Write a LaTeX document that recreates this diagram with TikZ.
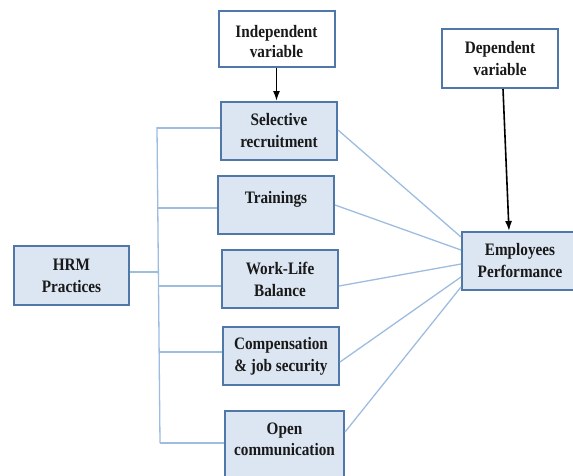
\documentclass[tikz,border=0pt]{standalone}
\usepackage{fontspec}
\setmainfont{Liberation Serif}[FakeStretch=0.87]
\usetikzlibrary{arrows.meta,calc}
\definecolor{boxfill}{HTML}{DCE6F2}
\definecolor{boxline}{HTML}{4F78A8}
\definecolor{conn}{HTML}{9DBCE0}
\tikzset{
  lab/.style={font=\fontsize{17.5}{22}\selectfont\bfseries, align=center, text=black!90},
  blue box/.style={lab, draw=boxline, line width=2pt, fill=boxfill, minimum width=116pt, minimum height=58pt, inner sep=0pt},
  var box/.style={lab, draw=boxline, line width=2pt, fill=white, minimum width=116pt, minimum height=56pt, inner sep=0pt},
  link/.style={draw=conn, line width=1.3pt},
  arr/.style={draw=black, line width=1.6pt, -{Latex[length=10pt,width=7pt]}}
}
\begin{document}
\begin{tikzpicture}[x=1pt, y=-1pt]
\useasboundingbox (0,0) rectangle (573,475);
% boxes
\node[var box] (indep) at (276.5,38.5) {\raisebox{-3pt}[\height][\depth]{\shortstack{Independent\\[2pt]variable}}};
\node[var box, minimum height=59pt] (dep) at (500,58.5) {Dependent\\variable};
\node[blue box] (sel) at (279,131) {Selective\\recruitment};
\node[blue box] (tra) at (276,205) {\raisebox{6pt}[\height][\depth]{Trainings}};
\node[blue box] (wlb) at (280,279) {Work-Life\\Balance};
\node[blue box] (com) at (281,356) {Compensation\\\&\ job security};
\node[blue box, minimum width=119pt, minimum height=72pt] (open) at (284.5,447) {\raisebox{8pt}[\height][\depth]{\shortstack{Open\\[2pt]communication}}};
\node[blue box, minimum width=115pt, minimum height=59pt] (hrm) at (71.5,275.5) {HRM\\Practices};
\node[blue box] (emp) at (520,261) {Employees\\Performance};
% trunk
\coordinate (ttop) at (157,127);
\coordinate (tbot) at (160,443);
\coordinate (b1) at (157,128);
\coordinate (b2) at (158,208);
\coordinate (bh) at (158.5,272);
\coordinate (b3) at (158.5,286);
\coordinate (b4) at (159,352);
\coordinate (b5) at (160,443);
\draw[link] (ttop) -- (tbot);
\draw[link] (b1) -- (b1 -| sel.west);
\draw[link] (b2) -- (b2 -| tra.west);
\draw[link] (b3) -- (b3 -| wlb.west);
\draw[link] (b4) -- (b4 -| com.west);
\draw[link] (b5) -- (b5 -| open.west);
\draw[link] (bh -| hrm.east) -- (bh);
% links to performance
\draw[link] ([yshift=1pt]sel.east) -- ([yshift=24pt]emp.west);
\draw[link] (tra.east) -- ([yshift=11pt]emp.west);
\draw[link] ([yshift=-7pt]wlb.east) -- ([yshift=-3pt]emp.west);
\draw[link] ([yshift=-6pt]com.east) -- ([yshift=-16pt]emp.west);
\draw[link] ([yshift=15pt]open.east) -- ([yshift=-26pt]emp.west);
% arrows
\draw[arr] (indep.south) -- (indep.south |- sel.north);
\draw[arr] ([xshift=3pt]dep.south) -- ([xshift=-11pt]emp.north);
\end{tikzpicture}
\end{document}
